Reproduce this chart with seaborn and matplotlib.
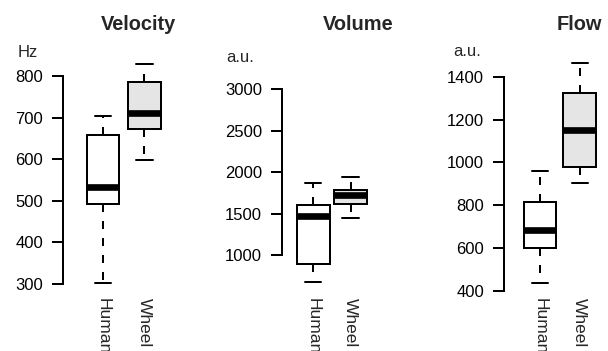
import numpy as np
import pandas as pd
import matplotlib
matplotlib.use("Agg")
import matplotlib.pyplot as plt
import matplotlib.transforms as mtransforms
import seaborn as sns

# ---------------- data ----------------
groups = ["Human", "Wheel"]
panel_titles = ["Velocity", "Volume", "Flow"]
unit_labels = ["Hz", "a.u.", "a.u."]

# five-number summaries: min, Q1, median, Q3, max
velocity_human = [302, 493, 534, 658, 703]
velocity_wheel = [597, 673, 711, 786, 830]
volume_human = [682, 892, 1474, 1606, 1875]
volume_wheel = [1453, 1615, 1727, 1787, 1947]
flow_human = [437, 598, 684, 816, 959]
flow_wheel = [905, 977, 1151, 1325, 1463]

velocity_ticks = [300, 400, 500, 600, 700, 800]
volume_ticks = [1000, 1500, 2000, 2500, 3000]
flow_ticks = [400, 600, 800, 1000, 1200, 1400]

fill_colors = {"Human": "white", "Wheel": "#e5e5e5"}

# ---------------- style ----------------
sns.set_style("white")
plt.rcParams["font.family"] = ["Liberation Sans", "DejaVu Sans"]
plt.rcParams["ytick.left"] = True

W, H = 608, 351
fig = plt.figure(figsize=(W / 100, H / 100), dpi=100)

LW = 1.44


def make_axes(axis_px, c0_px, c1_px, v_top, py_top, v_bot, py_bot, ylim):
    upx = c1_px - c0_px
    x_left = -(c0_px - axis_px) / upx
    x_right = 1.6
    right_px = c0_px + x_right * upx
    ppv = (py_bot - py_top) / (v_top - v_bot)
    top_px = py_top - (ylim[1] - v_top) * ppv
    bot_px = py_bot + (v_bot - ylim[0]) * ppv
    ax = fig.add_axes([axis_px / W, 1 - bot_px / H,
                       (right_px - axis_px) / W, (bot_px - top_px) / H])
    return ax, (x_left, x_right), upx


panels = [
    dict(data=(velocity_human, velocity_wheel), ticks=velocity_ticks,
         axis_px=63, c0=103.2, c1=144.4, ref=(800, 76, 300, 284),
         ylim=(280, 850), title_x=138.7, unit_x=28, unit_base=56.7),
    dict(data=(volume_human, volume_wheel), ticks=volume_ticks,
         axis_px=281.7, c0=313.3, c1=350.5, ref=(3000, 89.3, 1000, 255.3),
         ylim=(600, 3100), title_x=358.3, unit_x=240, unit_base=61.7),
    dict(data=(flow_human, flow_wheel), ticks=flow_ticks,
         axis_px=504, c0=540.2, c1=579.7, ref=(1400, 76.7, 400, 290.7),
         ylim=(380, 1500), title_x=579.7, unit_x=466.7, unit_base=56.2),
]

for i, p in enumerate(panels):
    v_top, py_top, v_bot, py_bot = p["ref"]
    ax, xlim, upx = make_axes(p["axis_px"], p["c0"], p["c1"],
                              v_top, py_top, v_bot, py_bot, p["ylim"])
    human, wheel = p["data"]
    df = pd.DataFrame({"group": np.repeat(groups, 5),
                       "value": list(human) + list(wheel)})
    sns.boxplot(data=df, x="group", y="value", hue="group",
                order=groups, hue_order=groups, palette=fill_colors,
                width=32.5 / upx, linecolor="black", linewidth=LW,
                whis=(0, 100), fliersize=0, legend=False, dodge=False,
                medianprops=dict(linewidth=4.8, solid_capstyle="butt"),
                whiskerprops=dict(linestyle=(0, (4, 4.5))),
                ax=ax)
    ax.set_xlim(*xlim)
    ax.set_ylim(*p["ylim"])
    ax.set_xlabel("")
    ax.set_ylabel("")
    ax.set_xticks([])
    ax.set_yticks(p["ticks"])
    ax.set_yticklabels([str(t) for t in p["ticks"]])
    ax.tick_params(axis="y", which="major", left=True, labelleft=True,
                   length=7.8, width=LW, pad=6.5, direction="out",
                   labelsize=12, color="black", labelcolor="black")
    for s in ["top", "right", "bottom"]:
        ax.spines[s].set_visible(False)
    ax.spines["left"].set_visible(True)
    ax.spines["left"].set_color("black")
    ax.spines["left"].set_linewidth(LW)
    ax.spines["left"].set_bounds(p["ticks"][0], p["ticks"][-1])
    ax.patch.set_alpha(0)

    # category labels, rotated, reading downward
    trans = mtransforms.blended_transform_factory(ax.transData, fig.transFigure)
    for j, g in enumerate(groups):
        ax.text(j, 1 - 297.5 / H, g, rotation=270, ha="center", va="top",
                fontsize=12.5, transform=trans, clip_on=False)

    # title
    fig.text(p["title_x"] / W, 1 - 29.5 / H, panel_titles[i],
             ha="center", va="baseline", fontsize=14.4, fontweight="bold")
    # unit label
    fig.text(p["unit_x"] / W, 1 - p["unit_base"] / H, unit_labels[i],
             ha="center", va="baseline", fontsize=12)

fig.savefig("out.png", dpi=100)
